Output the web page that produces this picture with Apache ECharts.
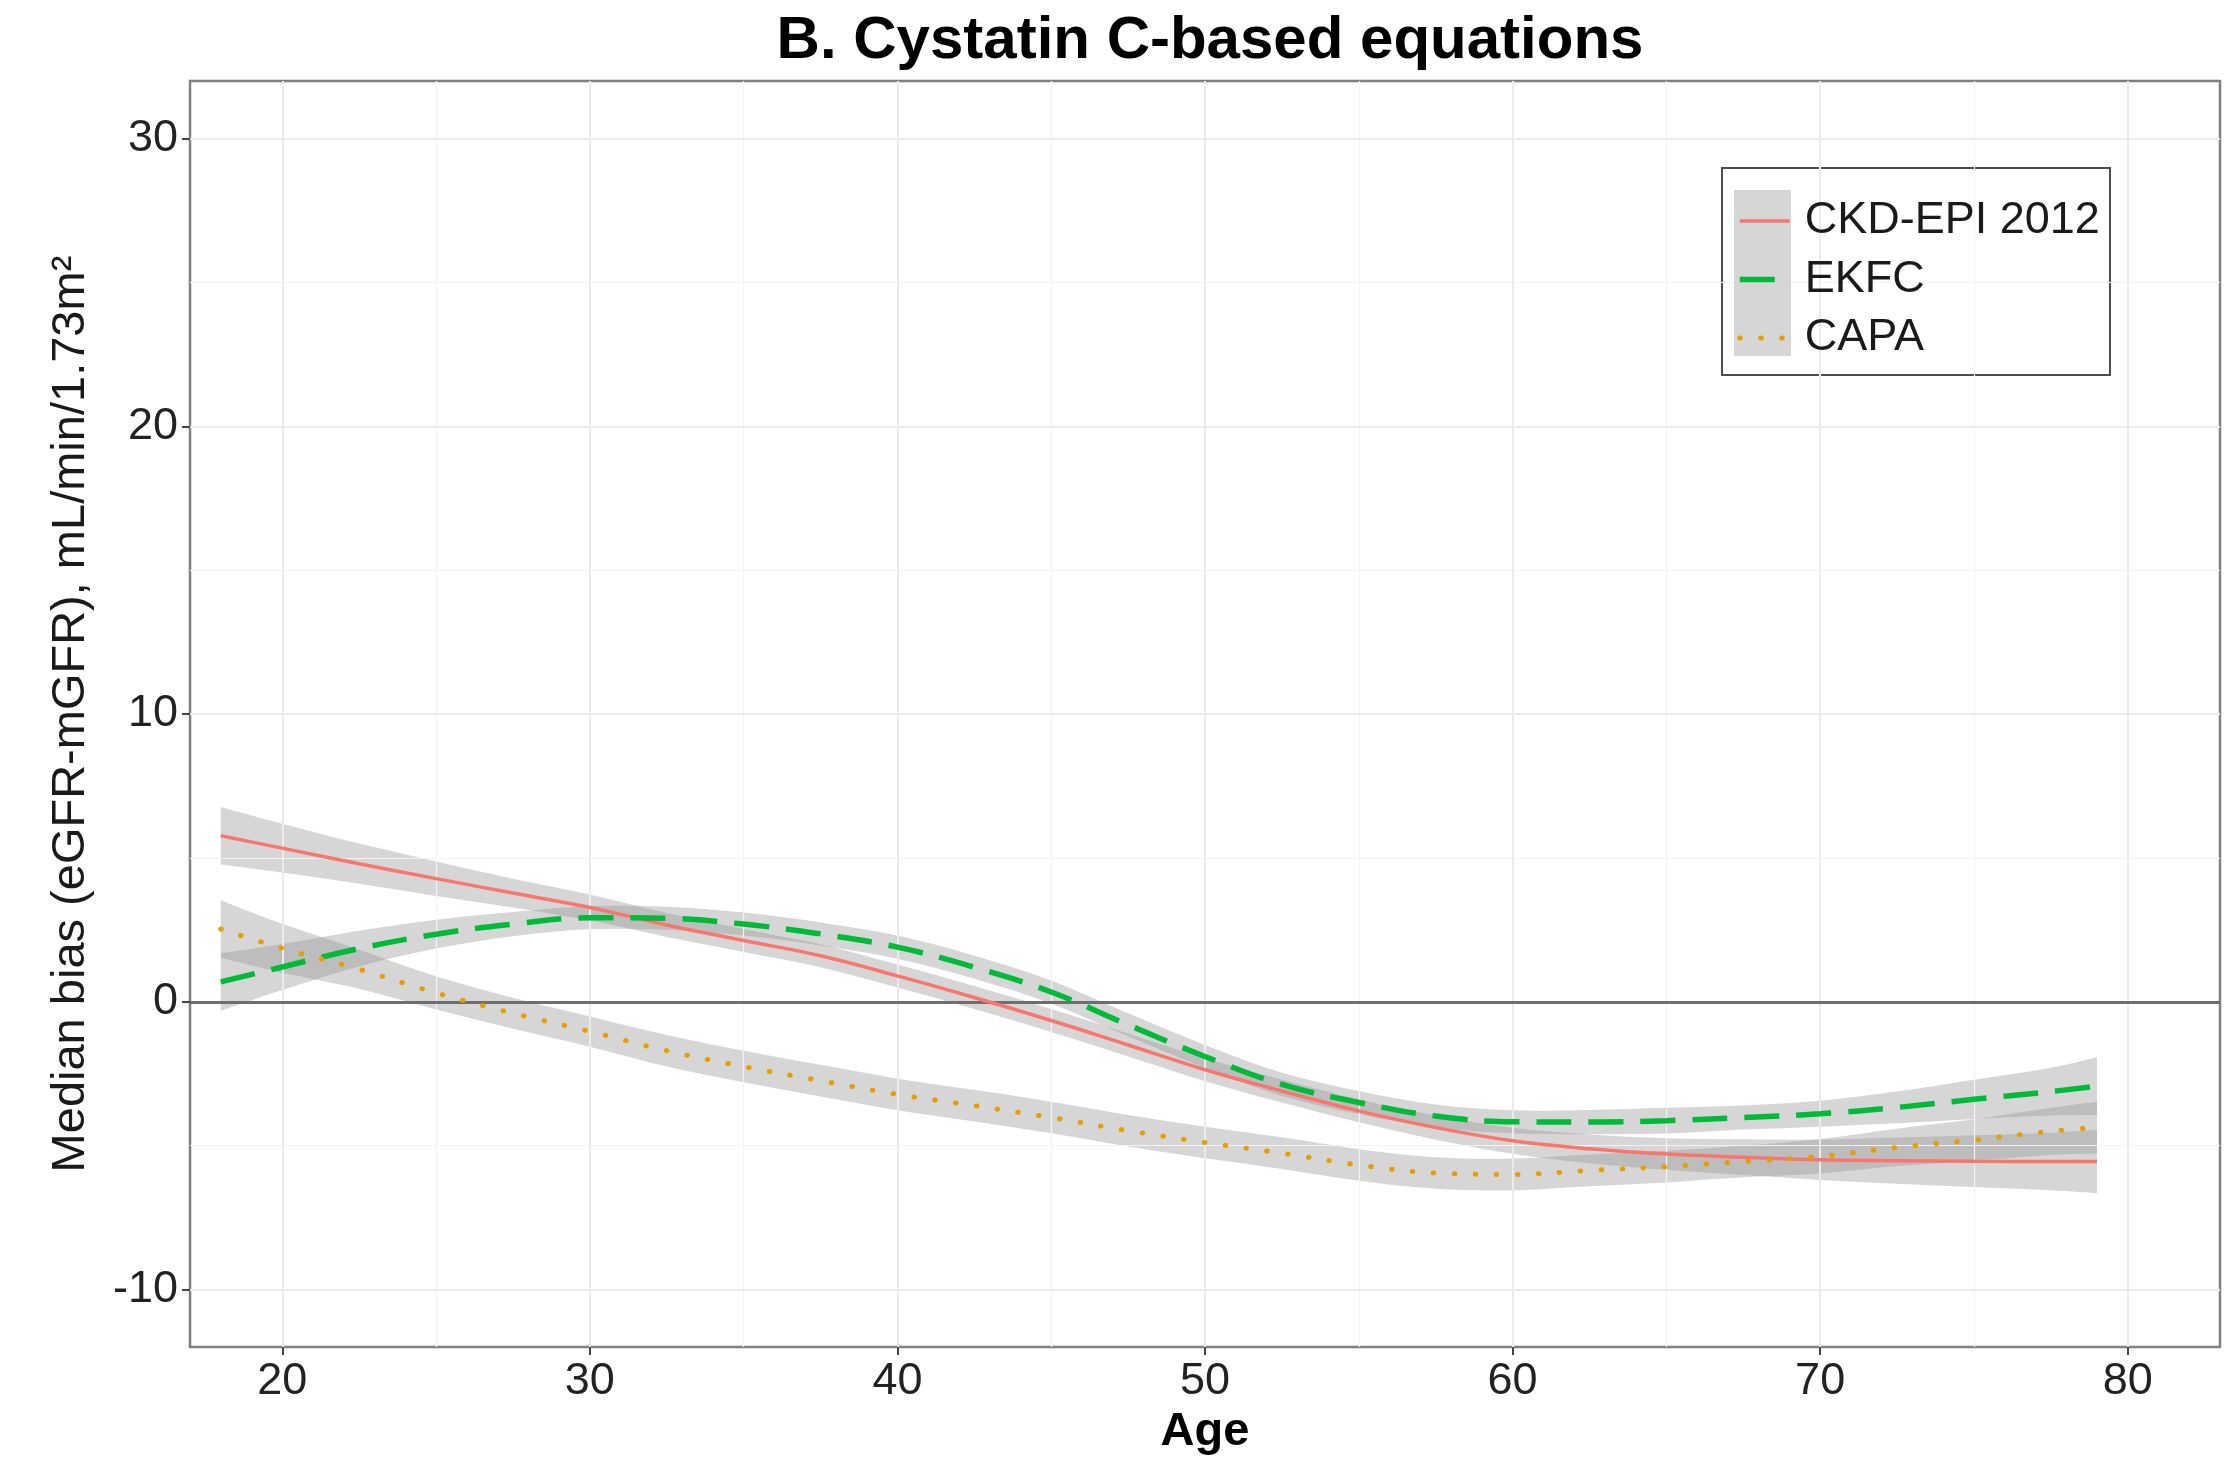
<!DOCTYPE html>
<html>
<head>
<meta charset="utf-8">
<script src="https://cdn.jsdelivr.net/npm/echarts@6/dist/echarts.min.js"></script>
<style>
  html, body { margin: 0; padding: 0; background: #fff; }
  #chart { width: 2234px; height: 1461px; }
</style>
</head>
<body>
<div id="chart"></div>
<script>
var ages = [18, 20, 22.5, 25, 27.5, 30, 32.5, 35, 37.5, 40, 42.5, 45, 47.5, 50, 52.5, 55, 57.5, 60, 62.5, 65, 67.5, 70, 72.5, 75, 77.5, 79];

// CKD-EPI 2012
var ckdEpi   = [5.77, 5.34, 4.80, 4.28, 3.78, 3.28, 2.67, 2.13, 1.60, 0.90, 0.15, -0.65, -1.50, -2.36, -3.10, -3.79, -4.37, -4.83, -5.11, -5.29, -5.40, -5.49, -5.52, -5.54, -5.55, -5.55];
var ckdEpiLo = [4.77, 4.49, 4.10, 3.68, 3.28, 2.83, 2.25, 1.73, 1.20, 0.50, -0.25, -1.05, -1.90, -2.76, -3.50, -4.19, -4.79, -5.28, -5.61, -5.84, -6.02, -6.19, -6.32, -6.44, -6.55, -6.65];
var ckdEpiHi = [6.77, 6.19, 5.50, 4.88, 4.28, 3.73, 3.09, 2.53, 2.00, 1.30, 0.55, -0.25, -1.10, -1.96, -2.70, -3.39, -3.95, -4.38, -4.61, -4.74, -4.78, -4.79, -4.72, -4.64, -4.55, -4.45];

// EKFC
var ekfc   = [0.69, 1.21, 1.85, 2.35, 2.70, 2.92, 2.90, 2.70, 2.36, 1.90, 1.20, 0.34, -0.80, -1.90, -2.87, -3.50, -3.97, -4.17, -4.18, -4.13, -4.02, -3.89, -3.67, -3.39, -3.12, -2.93];
var ekfcLo = [-0.31, 0.41, 1.23, 1.85, 2.28, 2.52, 2.50, 2.30, 1.96, 1.50, 0.80, -0.06, -1.20, -2.30, -3.27, -3.90, -4.37, -4.57, -4.60, -4.58, -4.44, -4.34, -4.22, -4.07, -3.95, -3.93];
var ekfcHi = [1.69, 2.01, 2.47, 2.85, 3.12, 3.32, 3.30, 3.10, 2.76, 2.30, 1.60, 0.74, -0.40, -1.50, -2.47, -3.10, -3.57, -3.77, -3.76, -3.68, -3.60, -3.44, -3.12, -2.71, -2.29, -1.93];

// CAPA
var capa   = [2.53, 1.86, 1.13, 0.31, -0.40, -1.03, -1.70, -2.25, -2.74, -3.22, -3.61, -4.02, -4.48, -4.89, -5.26, -5.67, -5.95, -6.00, -5.86, -5.73, -5.55, -5.37, -5.06, -4.80, -4.50, -4.37];
var capaLo = [1.53, 1.01, 0.45, -0.27, -0.94, -1.56, -2.25, -2.80, -3.29, -3.77, -4.16, -4.57, -5.03, -5.44, -5.81, -6.22, -6.50, -6.55, -6.41, -6.28, -6.10, -5.97, -5.71, -5.52, -5.32, -5.27];
var capaHi = [3.53, 2.71, 1.81, 0.89, 0.14, -0.51, -1.15, -1.70, -2.19, -2.67, -3.06, -3.47, -3.93, -4.34, -4.71, -5.12, -5.40, -5.45, -5.31, -5.18, -5.00, -4.77, -4.41, -4.08, -3.68, -3.47];

// axis ticks / grid
var xTicks = [20, 30, 40, 50, 60, 70, 80];
var xMinor = [25, 35, 45, 55, 65, 75];
var yTicks = [-10, 0, 10, 20, 30];
var yMinor = [-5, 5, 15, 25];

var FONT = '"Liberation Sans", Arial, Helvetica, sans-serif';
var BAND = 'rgba(153,153,153,0.4)';

var RED = '#F8766D', GREEN = '#00BA38', ORANGE = '#E69F00';
var redLine = { color: RED, width: 3.5, type: 'solid' };
var greenLine = { color: GREEN, width: 5.5, type: [35, 17] };
var orangeLine = { color: ORANGE, width: 5, type: [0.5, 20.5], cap: 'round' };

function pairs(ys) {
  return ages.map(function (a, i) { return [a, ys[i]]; });
}

// catmull-rom through screen points -> bezier path commands
function spline(pts) {
  var d = '';
  for (var i = 0; i < pts.length - 1; i++) {
    var p0 = pts[i - 1] || pts[i], p1 = pts[i], p2 = pts[i + 1], p3 = pts[i + 2] || pts[i + 1];
    var c1 = [p1[0] + (p2[0] - p0[0]) / 6, p1[1] + (p2[1] - p0[1]) / 6];
    var c2 = [p2[0] - (p3[0] - p1[0]) / 6, p2[1] - (p3[1] - p1[1]) / 6];
    d += ' C' + c1[0] + ',' + c1[1] + ' ' + c2[0] + ',' + c2[1] + ' ' + p2[0] + ',' + p2[1];
  }
  return d;
}

function band(key, lo, hi) {
  return {
    name: key + '_band', type: 'custom', silent: true, z: 2, clip: true,
    data: ages.map(function (a, i) { return [a, lo[i], hi[i]]; }),
    encode: { x: 0, y: [1, 2] },
    renderItem: function (params, api) {
      if (params.dataIndex !== 0) return null;
      var up = ages.map(function (a, i) { return api.coord([a, hi[i]]); });
      var dn = ages.map(function (a, i) { return api.coord([a, lo[i]]); }).reverse();
      var d = 'M' + up[0][0] + ',' + up[0][1] + spline(up) +
              ' L' + dn[0][0] + ',' + dn[0][1] + spline(dn) + ' Z';
      return { type: 'path', shape: { pathData: d }, style: { fill: BAND } };
    }
  };
}

var gridLines = [];
xTicks.forEach(function (v) { gridLines.push({ xAxis: v, lineStyle: { color: '#ebebeb', width: 2, type: 'solid' } }); });
xMinor.forEach(function (v) { gridLines.push({ xAxis: v, lineStyle: { color: '#f3f3f3', width: 1.2, type: 'solid' } }); });
yTicks.forEach(function (v) { gridLines.push({ yAxis: v, lineStyle: { color: '#ebebeb', width: 2, type: 'solid' } }); });
yMinor.forEach(function (v) { gridLines.push({ yAxis: v, lineStyle: { color: '#f3f3f3', width: 1.2, type: 'solid' } }); });

var chart = echarts.init(document.getElementById('chart'));

var option = {
  animation: false,
  backgroundColor: '#fff',
  title: {
    text: 'B. Cystatin C-based equations',
    left: 1205, top: 6, textAlign: 'center',
    textStyle: { fontFamily: FONT, fontSize: 60, fontWeight: 'bold', color: '#000' }
  },
  grid: {
    left: 190, right: 14, top: 81, bottom: 105,
    show: true, borderColor: '#808080', borderWidth: 2.5, backgroundColor: '#fff'
  },
  legend: {
    data: [
      { name: 'CKD-EPI 2012', lineStyle: redLine, itemStyle: { opacity: 0 } },
      { name: 'EKFC', lineStyle: greenLine, itemStyle: { opacity: 0 } },
      { name: 'CAPA', lineStyle: orangeLine, itemStyle: { opacity: 0 } }
    ],
    orient: 'vertical', left: 1737, top: 196, padding: 0,
    itemWidth: 50, itemHeight: 14, itemGap: 8.5,
    textStyle: { fontFamily: FONT, fontSize: 45, lineHeight: 50, color: '#1a1a1a', padding: [0, 0, 0, 10] },
    z: 10
  },
  graphic: {
    elements: [
      { type: 'rect', z: 5, shape: { x: 1722, y: 168, width: 388, height: 207 },
        style: { fill: '#fff', stroke: '#4d4d4d', lineWidth: 2 } },
      { type: 'rect', z: 6, shape: { x: 1734, y: 190, width: 57, height: 166 },
        style: { fill: '#d6d6d6' } }
    ]
  },
  xAxis: {
    type: 'value', min: 17, max: 83,
    name: 'Age', nameLocation: 'middle', nameGap: 56,
    nameTextStyle: { fontFamily: FONT, fontSize: 47, fontWeight: 'bold', color: '#000' },
    axisLine: { show: false, onZero: false },
    axisTick: { show: true, length: 8, customValues: xTicks, lineStyle: { color: '#444', width: 2 } },
    axisLabel: { fontFamily: FONT, fontSize: 45, color: '#222', margin: 12, customValues: xTicks },
    splitLine: { show: false }
  },
  yAxis: {
    type: 'value', min: -12, max: 32,
    name: 'Median bias (eGFR-mGFR), mL/min/1.73m²', nameLocation: 'middle', nameGap: 95,
    nameTextStyle: { fontFamily: FONT, fontSize: 47, color: '#1a1a1a' },
    axisLine: { show: false, onZero: false },
    axisTick: { show: true, length: 8, customValues: yTicks, lineStyle: { color: '#444', width: 2 } },
    axisLabel: { fontFamily: FONT, fontSize: 45, color: '#222', margin: 12, customValues: yTicks },
    splitLine: { show: false }
  },
  series: [
    {
      name: 'grid', type: 'line', data: [], z: 1, silent: true,
      markLine: { silent: true, symbol: 'none', label: { show: false }, animation: false, data: gridLines }
    },
    band('ckd', ckdEpiLo, ckdEpiHi),
    band('ekfc', ekfcLo, ekfcHi),
    band('capa', capaLo, capaHi),
    {
      name: 'zero', type: 'line', data: [], z: 3, silent: true,
      markLine: { silent: true, symbol: 'none', label: { show: false }, animation: false,
        data: [{ yAxis: 0, lineStyle: { color: '#6e6e6e', width: 3, type: 'solid' } }] }
    },
    {
      name: 'CKD-EPI 2012', type: 'line', data: pairs(ckdEpi), symbol: 'none', smooth: 0.4, z: 5,
      itemStyle: { color: RED }, lineStyle: redLine
    },
    {
      name: 'EKFC', type: 'line', data: pairs(ekfc), symbol: 'none', smooth: 0.4, z: 5,
      itemStyle: { color: GREEN }, lineStyle: greenLine
    },
    {
      name: 'CAPA', type: 'line', data: pairs(capa), symbol: 'none', smooth: 0.4, z: 5,
      itemStyle: { color: ORANGE }, lineStyle: orangeLine
    }
  ]
};

chart.setOption(option);
</script>
</body>
</html>
